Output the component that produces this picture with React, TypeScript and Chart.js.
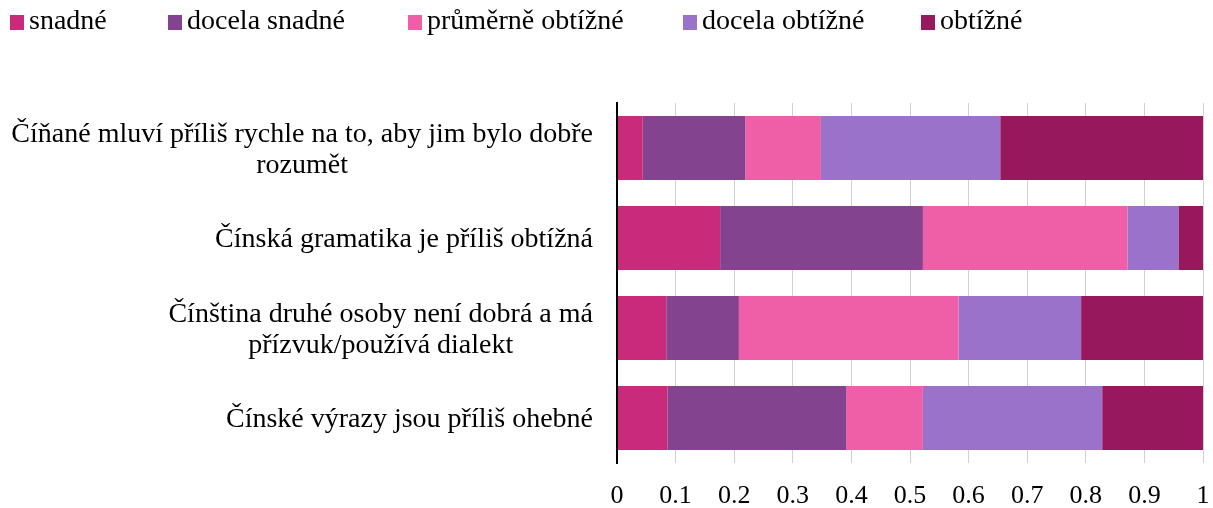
import React, { useEffect, useRef } from "react";
import { Chart, registerables } from "chart.js";

Chart.register(...registerables);

const categories: string[][] = [
  ["Číňané mluví příliš rychle na to, aby jim bylo dobře", "rozumět"],
  ["Čínská gramatika je příliš obtížná"],
  ["Čínština druhé osoby není dobrá a má", "přízvuk/používá dialekt"],
  ["Čínské výrazy jsou příliš ohebné"],
];

const seriesNames = ["snadné", "docela snadné", "průměrně obtížné", "docela obtížné", "obtížné"];

const snadne = [0.044, 0.176, 0.084, 0.086];
const docelaSnadne = [0.175, 0.346, 0.124, 0.305];
const prumerneObtizne = [0.129, 0.349, 0.375, 0.131];
const docelaObtizne = [0.306, 0.087, 0.209, 0.306];
const obtizne = [0.346, 0.042, 0.208, 0.172];

const xTickLabels = ["0", "0.1", "0.2", "0.3", "0.4", "0.5", "0.6", "0.7", "0.8", "0.9", "1"];

const seriesValues = [snadne, docelaSnadne, prumerneObtizne, docelaObtizne, obtizne];
const seriesColors = ["#C92A7A", "#84438E", "#EE5FA7", "#9B72C9", "#98185E"];

const FONT = '"Liberation Serif", "Times New Roman", serif';

const legendPlugin = {
  id: "customLegend",
  afterDraw(chart: any) {
    const ctx = chart.ctx;
    const starts = [10, 168, 408, 683, 921];
    ctx.save();
    ctx.font = `28px ${FONT}`;
    ctx.textBaseline = "middle";
    ctx.textAlign = "left";
    chart.data.datasets.forEach((ds: any, i: number) => {
      const x = starts[i];
      ctx.fillStyle = ds.backgroundColor;
      ctx.fillRect(x, 15, 14, 15);
      ctx.fillStyle = "#000";
      ctx.fillText(ds.label, x + 19, 22);
    });
    ctx.restore();
  },
};

const yLabelPlugin = {
  id: "yLabels",
  afterDraw(chart: any) {
    const ctx = chart.ctx;
    const yScale = chart.scales.y;
    const right = 593;
    const lineGap = 31;
    ctx.save();
    ctx.font = `28px ${FONT}`;
    ctx.textBaseline = "middle";
    ctx.textAlign = "center";
    ctx.fillStyle = "#000";
    (chart.data.labels as string[][]).forEach((lines, i) => {
      const yc = yScale.getPixelForValue(i) + 2;
      const maxW = Math.max(...lines.map((l) => ctx.measureText(l).width));
      const cx = right - maxW / 2;
      const y0 = yc - ((lines.length - 1) * lineGap) / 2;
      lines.forEach((l, j) => ctx.fillText(l, cx, y0 + j * lineGap));
    });
    ctx.restore();
  },
};

export default function App() {
  const ref = useRef<HTMLCanvasElement | null>(null);
  useEffect(() => {
    document.body.style.margin = "0";
    const canvas = ref.current!;
    const chart = new Chart(canvas, {
      type: "bar",
      data: {
        labels: categories as any,
        datasets: seriesNames.map((name, i) => ({
          label: name,
          data: seriesValues[i],
          backgroundColor: seriesColors[i],
          borderWidth: 0,
          categoryPercentage: 0.71,
          barPercentage: 1,
        })),
      },
      options: {
        indexAxis: "y",
        responsive: false,
        animation: false,
        devicePixelRatio: 1,
        layout: { padding: { left: 617, right: 10, top: 103, bottom: 0 } },
        plugins: { legend: { display: false }, tooltip: { enabled: false } },
        scales: {
          x: {
            stacked: true,
            min: 0,
            max: 1,
            ticks: {
              stepSize: 0.1,
              padding: 18,
              maxRotation: 0,
              autoSkip: false,
              color: "#000",
              font: { family: FONT, size: 26 },
              callback: (_v: any, i: number) => xTickLabels[i],
            },
            grid: { color: "#d0d0d0", lineWidth: 1, drawTicks: false },
            border: { display: false },
            afterFit: (s: any) => {
              s.height = 45;
              s.paddingLeft = 0;
              s.paddingRight = 0;
            },
          },
          y: {
            stacked: true,
            ticks: { display: false },
            grid: { display: false, z: 1 },
            border: { display: true, color: "#000", width: 2, z: 1 } as any,
            afterFit: (s: any) => {
              s.width = 0;
              s.paddingTop = 0;
              s.paddingBottom = 0;
            },
          },
        },
      },
      plugins: [legendPlugin, yLabelPlugin],
    });
    return () => chart.destroy();
  }, []);
  return (
    <div style={{ width: 1213, height: 508, overflow: "hidden" }}>
      <canvas ref={ref} width={1213} height={508} style={{ display: "block" }} />
    </div>
  );
}
